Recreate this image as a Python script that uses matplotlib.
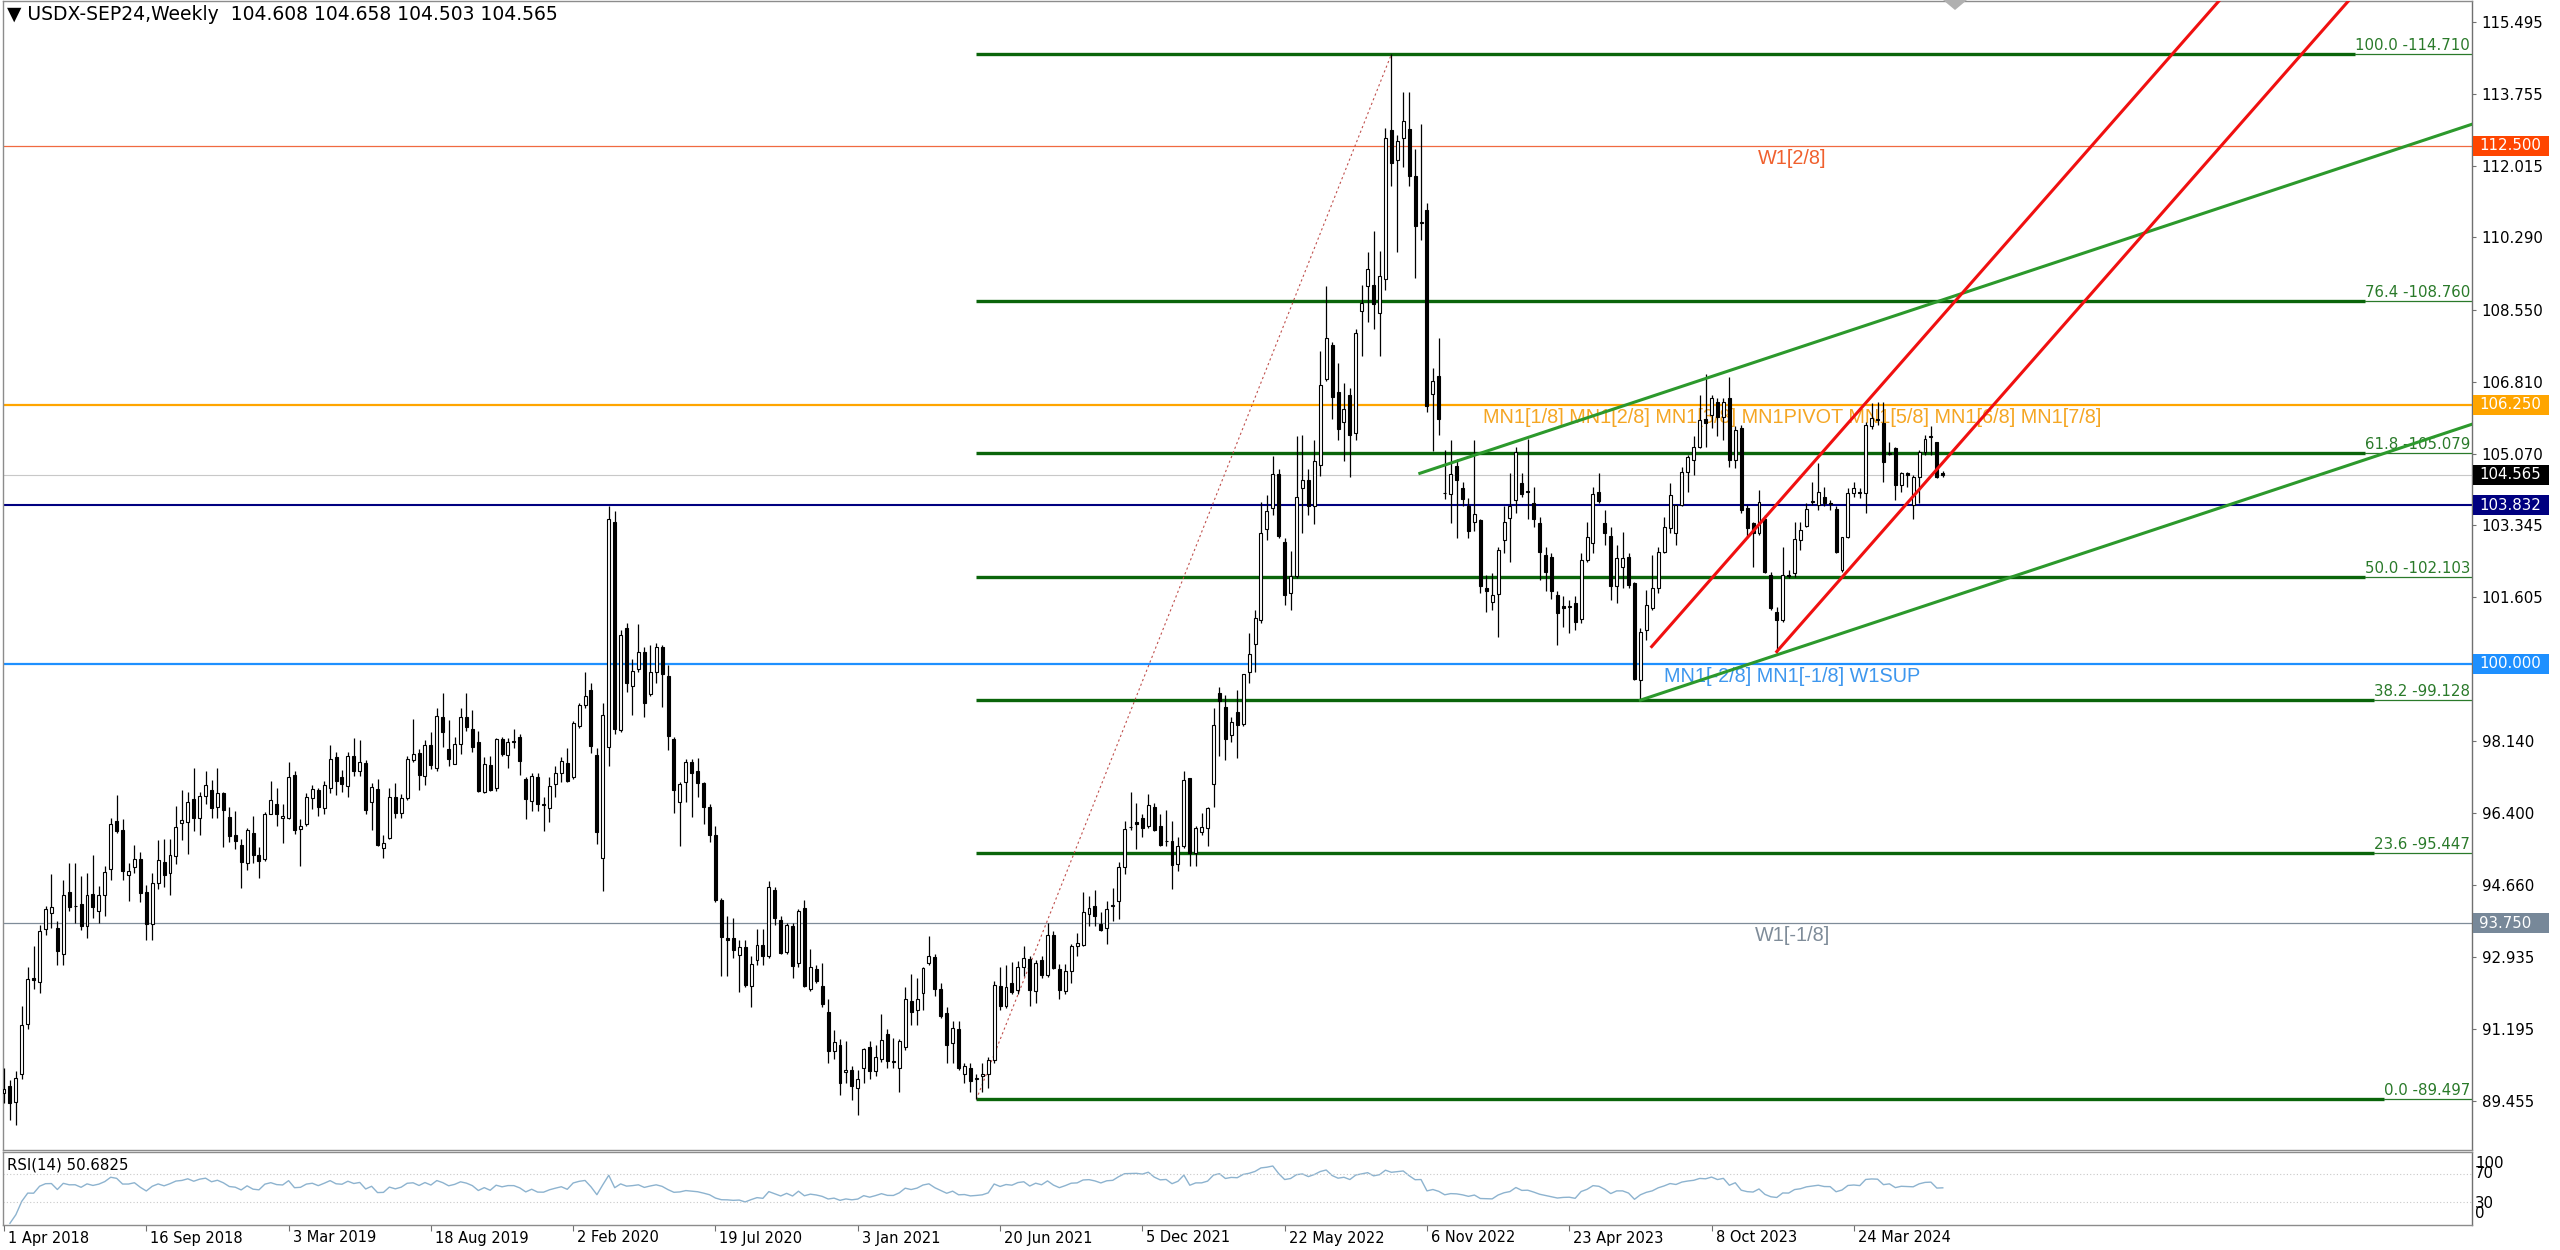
import numpy as np
import pandas as pd
import matplotlib
matplotlib.use("Agg")
import matplotlib.pyplot as plt
from matplotlib.patches import Rectangle, Polygon
from matplotlib.transforms import blended_transform_factory

# weekly candles USDX-SEP24, bar 0 = week of 1 Apr 2018
opens = [89.66, 89.83, 89.44, 90.10, 91.31, 92.42, 92.33, 93.60, 94.00, 93.63,
         93.00, 94.50, 94.17, 94.22, 93.67, 94.44, 94.04, 94.42, 95.06, 96.21,
         96.00, 94.92, 95.10, 95.29, 94.50, 93.73, 94.71, 95.23, 94.96, 95.36,
         96.17, 96.20, 96.75, 96.28, 96.82, 96.96, 96.54, 96.88, 96.32, 95.88,
         95.63, 95.21, 95.93, 95.38, 95.29, 96.39, 96.63, 96.29, 96.29, 97.32,
         96.02, 96.13, 96.77, 96.96, 96.52, 97.02, 97.75, 97.27, 97.06, 97.77,
         97.42, 97.61, 96.67, 96.98, 95.56, 95.81, 96.79, 96.40, 96.77, 97.69,
         97.86, 97.29, 98.04, 97.48, 98.73, 97.96, 97.58, 98.08, 98.73, 98.43,
         98.13, 96.92, 97.57, 97.00, 98.18, 97.81, 98.14, 98.24, 97.22, 96.70,
         97.27, 96.60, 96.52, 97.10, 97.38, 97.60, 97.27, 98.51, 99.00, 99.37,
         97.81, 95.33, 98.00, 103.42, 98.40, 100.86, 99.48, 99.89, 100.29, 99.27,
         99.81, 100.40, 99.70, 98.19, 96.68, 97.16, 97.63, 97.41, 97.13, 96.55,
         95.87, 94.30, 93.38, 93.39, 92.99, 93.17, 92.23, 92.85, 93.23, 92.96,
         94.54, 93.82, 93.06, 93.68, 92.79, 94.11, 92.17, 92.63, 92.23, 91.61,
         90.66, 90.80, 90.15, 90.20, 89.77, 90.26, 90.77, 90.19, 90.47, 91.07,
         90.42, 90.26, 90.75, 91.88, 91.66, 92.06, 92.79, 92.92, 92.17, 91.59,
         90.85, 91.20, 90.10, 90.26, 90.00, 90.07, 90.12, 90.44, 92.23, 91.74,
         92.30, 92.13, 92.69, 92.88, 92.10, 92.86, 92.50, 93.46, 92.64, 92.10,
         92.60, 93.19, 93.22, 93.96, 94.15, 93.72, 93.63, 94.17, 94.28, 95.10,
         96.06, 96.19, 96.29, 96.09, 96.56, 96.09, 95.72, 95.73, 95.18, 95.62,
         97.24, 95.43, 95.94, 96.05, 97.10, 99.30, 98.96, 98.29, 98.85, 98.56,
         99.80, 100.48, 101.06, 103.25, 103.77, 104.59, 102.95, 101.72, 102.12, 104.24,
         104.44, 103.81, 104.80, 106.87, 107.69, 106.57, 105.84, 106.48, 105.58, 108.51,
         109.11, 109.15, 108.46, 109.28, 112.88, 112.17, 112.68, 112.90, 111.78, 110.64,
         110.96, 106.52, 106.94, 104.13, 104.11, 104.78, 104.24, 103.80, 103.43, 103.47,
         101.83, 101.50, 101.69, 102.99, 103.52, 103.96, 104.37, 104.18, 103.89, 103.41,
         102.63, 102.57, 101.67, 101.40, 101.38, 101.46, 101.08, 102.51, 102.91, 104.16,
         103.41, 103.09, 101.87, 102.35, 102.59, 101.95, 99.61, 100.82, 101.34, 101.83,
         102.71, 103.27, 103.15, 103.84, 104.64, 104.92, 105.24, 105.90, 106.01, 106.33,
         105.97, 106.41, 104.92, 105.69, 103.76, 103.41, 103.15, 103.51, 102.15, 101.26,
         101.06, 102.14, 102.19, 102.99, 103.33, 103.92, 103.84, 104.04, 103.88, 103.73,
         102.27, 103.07, 104.12, 104.16, 104.12, 105.74, 105.90, 105.81, 105.06, 105.20,
         104.32, 104.62, 103.84, 104.52, 105.12, 105.48, 105.36, 104.608]
highs = [90.25, 89.96, 90.17, 91.75, 92.70, 93.20, 93.71, 94.17, 94.93, 93.79,
         94.78, 95.19, 95.20, 94.88, 94.96, 95.39, 94.64, 95.13, 96.28, 96.83,
         96.25, 95.21, 95.63, 95.46, 94.67, 94.96, 95.75, 95.79, 95.79, 96.58,
         96.96, 96.92, 97.50, 96.92, 97.42, 97.21, 97.48, 96.92, 96.54, 96.46,
         95.79, 96.04, 96.33, 95.58, 96.44, 97.18, 97.00, 96.63, 97.64, 97.42,
         96.25, 96.88, 97.08, 97.00, 97.17, 98.04, 97.88, 97.44, 97.88, 98.21,
         98.17, 97.69, 97.13, 97.23, 95.88, 97.00, 97.13, 96.86, 97.78, 98.67,
         97.96, 98.17, 98.35, 98.94, 99.31, 98.64, 98.25, 98.94, 99.29, 98.89,
         98.38, 97.75, 97.77, 98.21, 98.25, 98.21, 98.44, 98.30, 97.27, 97.38,
         97.38, 96.79, 97.27, 97.54, 97.76, 97.97, 98.62, 99.05, 99.80, 99.53,
         97.97, 99.05, 103.80, 103.69, 100.83, 100.99, 100.13, 100.97, 100.40, 100.45,
         100.51, 100.47, 99.97, 98.24, 97.16, 97.70, 97.70, 97.73, 97.16, 96.62,
         96.09, 94.36, 93.92, 93.87, 93.33, 93.33, 92.96, 93.60, 93.60, 94.77,
         94.63, 93.93, 93.76, 93.76, 94.09, 94.30, 93.12, 92.74, 92.79, 91.93,
         91.18, 90.96, 90.90, 90.31, 90.20, 90.74, 90.90, 90.80, 91.56, 91.20,
         90.98, 90.96, 92.20, 92.52, 92.42, 92.68, 93.44, 93.01, 92.31, 91.72,
         91.39, 91.39, 90.37, 90.37, 90.10, 90.37, 90.53, 92.36, 92.68, 92.73,
         92.82, 92.84, 93.19, 92.96, 92.86, 92.95, 93.74, 93.55, 92.77, 92.77,
         93.25, 93.51, 94.50, 94.41, 94.54, 94.02, 94.28, 94.60, 95.23, 96.22,
         96.91, 96.65, 96.39, 96.87, 96.65, 96.39, 96.48, 96.22, 95.83, 97.43,
         97.24, 96.09, 96.41, 96.56, 98.93, 99.45, 99.25, 98.72, 99.37, 99.77,
         100.74, 101.30, 103.90, 104.07, 105.02, 104.71, 103.04, 102.73, 105.49, 105.53,
         104.71, 105.40, 107.56, 109.11, 107.77, 107.26, 106.78, 106.65, 108.08, 109.15,
         109.93, 110.45, 109.97, 112.94, 114.71, 112.77, 113.80, 113.80, 112.43, 113.03,
         111.13, 107.13, 107.86, 105.16, 105.40, 104.95, 104.40, 104.00, 105.40, 103.50,
         102.15, 102.19, 102.83, 103.80, 104.60, 105.24, 104.60, 105.44, 104.28, 103.55,
         102.83, 102.67, 101.75, 101.63, 101.54, 101.63, 102.67, 103.43, 104.28, 104.60,
         103.72, 103.31, 102.87, 103.19, 102.67, 101.99, 100.86, 101.79, 102.63, 102.83,
         103.55, 104.36, 103.84, 104.76, 105.04, 105.49, 106.49, 107.00, 106.49, 106.41,
         106.41, 106.93, 105.73, 105.77, 103.84, 103.43, 104.20, 103.59, 102.23, 101.38,
         102.83, 102.27, 103.43, 103.43, 103.88, 104.40, 104.84, 104.28, 103.96, 103.80,
         103.07, 104.24, 104.40, 104.24, 105.85, 106.29, 106.33, 106.33, 105.36, 105.24,
         104.64, 104.64, 104.56, 105.16, 105.52, 105.74, 105.36, 104.658]
lows = [89.42, 89.00, 88.89, 90.00, 91.20, 92.17, 92.06, 93.47, 93.64, 92.73,
        92.75, 94.04, 93.75, 93.58, 93.39, 93.87, 93.75, 93.92, 94.79, 95.92,
        94.79, 94.29, 94.96, 94.25, 93.33, 93.33, 94.58, 94.63, 94.42, 95.17,
        95.75, 95.42, 95.96, 95.87, 96.63, 96.29, 96.29, 95.58, 95.71, 95.54,
        94.60, 95.02, 95.21, 94.83, 95.25, 96.37, 96.08, 95.67, 96.27, 95.89,
        95.13, 96.08, 96.50, 96.33, 96.38, 96.88, 96.83, 96.92, 96.79, 97.29,
        97.29, 96.38, 96.00, 95.60, 95.33, 95.79, 96.29, 96.29, 96.71, 97.63,
        96.96, 97.08, 97.46, 97.42, 98.00, 97.54, 97.58, 97.83, 98.38, 97.88,
        96.92, 96.88, 96.94, 96.94, 97.79, 97.50, 97.97, 97.33, 96.27, 96.46,
        96.46, 95.98, 96.19, 96.78, 97.16, 97.16, 97.22, 98.46, 98.95, 97.86,
        95.65, 94.52, 97.54, 98.30, 98.35, 99.32, 98.78, 99.81, 98.73, 99.22,
        99.54, 98.97, 97.92, 96.41, 95.60, 96.68, 96.30, 96.78, 96.14, 95.71,
        94.25, 92.47, 92.47, 92.90, 92.09, 92.20, 91.72, 92.74, 92.74, 92.90,
        93.71, 93.01, 93.01, 92.42, 92.68, 92.20, 92.12, 92.31, 91.72, 90.37,
        90.47, 89.61, 89.88, 89.47, 89.13, 89.88, 89.99, 90.05, 90.40, 90.26,
        90.26, 89.67, 90.69, 91.28, 91.28, 91.66, 92.74, 91.98, 91.45, 90.37,
        90.37, 90.20, 89.88, 89.67, 89.497, 89.67, 89.77, 90.37, 91.66, 91.70,
        92.04, 92.04, 92.47, 91.76, 91.82, 92.43, 92.45, 92.64, 91.91, 92.04,
        92.30, 92.95, 93.20, 93.68, 93.68, 93.55, 93.25, 93.81, 93.85, 94.93,
        96.00, 95.53, 95.83, 96.05, 95.96, 95.62, 95.62, 94.58, 95.01, 95.57,
        95.12, 95.12, 95.87, 95.62, 96.56, 97.77, 97.68, 98.12, 97.73, 98.50,
        99.54, 99.80, 101.00, 103.00, 103.59, 103.04, 101.43, 101.30, 102.08, 103.17,
        103.59, 103.38, 104.54, 106.82, 105.92, 105.40, 104.89, 104.50, 105.40, 107.43,
        108.25, 108.08, 107.43, 109.02, 111.52, 109.93, 111.99, 111.52, 109.32, 110.23,
        106.09, 105.14, 105.53, 103.98, 103.40, 103.05, 103.80, 103.05, 103.20, 101.71,
        101.26, 101.30, 100.66, 102.67, 102.47, 103.64, 104.04, 103.51, 103.31, 102.03,
        101.75, 101.58, 100.46, 100.90, 100.74, 100.82, 100.98, 102.47, 102.67, 103.88,
        102.87, 101.54, 101.46, 101.83, 101.83, 99.61, 99.128, 100.58, 101.30, 101.71,
        102.67, 103.15, 102.87, 103.80, 104.16, 104.56, 105.20, 105.24, 105.69, 105.49,
        105.40, 104.76, 104.72, 103.64, 103.03, 102.35, 103.11, 102.19, 101.30, 100.30,
        101.02, 102.07, 102.11, 102.75, 103.31, 103.84, 103.72, 103.80, 103.72, 102.67,
        102.23, 103.03, 104.04, 104.00, 103.64, 105.66, 105.77, 104.40, 105.04, 103.96,
        104.16, 104.28, 103.51, 103.88, 105.04, 105.04, 104.48, 104.503]
closes = [89.75, 89.42, 90.02, 91.29, 92.40, 92.38, 93.57, 94.10, 94.13, 93.08,
          94.42, 94.14, 94.15, 93.69, 94.42, 94.14, 94.42, 94.98, 96.13, 95.96,
          95.00, 95.00, 95.29, 94.48, 93.73, 94.71, 95.27, 94.90, 95.40, 96.07,
          96.23, 96.67, 96.28, 96.81, 97.07, 96.52, 96.88, 96.48, 95.85, 95.73,
          95.23, 96.00, 95.38, 95.25, 96.38, 96.72, 96.39, 96.33, 97.28, 96.00,
          96.08, 96.79, 96.98, 96.56, 97.08, 97.71, 97.18, 97.10, 97.78, 97.41,
          97.64, 96.48, 97.03, 95.64, 95.68, 96.79, 96.40, 96.77, 97.71, 97.83,
          97.32, 98.04, 97.56, 98.75, 98.35, 97.71, 98.06, 98.73, 98.48, 98.00,
          96.94, 97.58, 96.96, 98.19, 97.82, 98.13, 98.12, 97.65, 96.75, 97.30,
          96.62, 96.60, 97.06, 97.38, 97.67, 97.18, 98.57, 99.00, 99.23, 98.03,
          95.95, 98.78, 103.50, 98.42, 100.69, 99.54, 99.83, 100.29, 99.07, 99.81,
          100.40, 99.75, 98.27, 96.95, 97.11, 97.63, 97.38, 97.13, 96.55, 95.87,
          94.30, 93.42, 93.35, 93.10, 93.17, 92.25, 92.77, 93.23, 92.96, 94.61,
          93.87, 93.03, 93.71, 92.71, 94.03, 92.23, 92.69, 92.36, 91.80, 90.66,
          90.87, 89.88, 90.20, 89.83, 89.99, 90.72, 90.19, 90.53, 90.94, 90.42,
          90.40, 90.91, 91.93, 91.61, 91.93, 92.66, 92.96, 92.15, 91.50, 90.80,
          91.23, 90.26, 90.31, 89.94, 90.02, 90.12, 90.44, 92.25, 91.74, 92.21,
          92.08, 92.70, 92.90, 92.13, 92.79, 92.50, 93.46, 92.67, 92.13, 92.60,
          93.19, 93.27, 94.02, 94.11, 93.91, 93.59, 94.08, 94.18, 95.10, 96.03,
          96.07, 96.14, 96.05, 96.60, 96.00, 95.63, 95.72, 95.14, 95.62, 97.21,
          95.43, 96.05, 96.06, 96.52, 98.53, 99.11, 98.20, 98.59, 98.53, 99.77,
          100.25, 101.11, 103.17, 103.68, 104.59, 103.08, 101.67, 102.12, 104.04, 104.45,
          103.81, 104.89, 106.74, 107.86, 106.44, 105.68, 106.16, 105.53, 107.99, 108.72,
          109.54, 108.68, 109.37, 112.68, 112.08, 112.62, 113.09, 111.78, 110.56, 110.65,
          106.22, 106.82, 105.92, 104.12, 104.58, 104.45, 103.97, 103.22, 103.63, 101.87,
          101.75, 101.67, 102.75, 103.43, 103.80, 105.12, 104.10, 104.16, 103.51, 102.71,
          102.23, 101.75, 101.22, 101.36, 101.40, 101.02, 102.51, 103.07, 104.10, 103.94,
          103.15, 101.87, 102.55, 102.55, 101.91, 99.65, 100.76, 101.42, 101.83, 102.71,
          103.30, 104.08, 103.84, 104.64, 105.00, 105.24, 105.89, 105.82, 106.41, 105.95,
          106.33, 104.92, 105.65, 103.72, 103.27, 103.15, 103.92, 102.23, 101.34, 101.06,
          102.15, 102.12, 103.01, 103.23, 103.73, 103.94, 104.16, 103.88, 103.86, 102.71,
          103.07, 104.12, 104.24, 104.12, 105.77, 105.93, 105.89, 104.88, 105.08, 104.32,
          104.62, 104.56, 104.52, 105.12, 105.44, 105.50, 104.52, 104.565]

date_ticks = [0, 24, 48, 72, 96, 120, 144, 168, 192, 216, 240, 264, 288, 312]
date_labels = ["1 Apr 2018", "16 Sep 2018", "3 Mar 2019", "18 Aug 2019", "2 Feb 2020",
               "19 Jul 2020", "3 Jan 2021", "20 Jun 2021", "5 Dec 2021", "22 May 2022",
               "6 Nov 2022", "23 Apr 2023", "8 Oct 2023", "24 Mar 2024"]

price_ticks = [115.495, 113.755, 112.015, 110.290, 108.550, 106.810, 105.070, 103.345,
               101.605, 99.870, 98.140, 96.400, 94.660, 92.935, 91.195, 89.455]
hidden_ticks = [99.870]   # sits under the 100.000 box

fib_levels = [0.0, 23.6, 38.2, 50.0, 61.8, 76.4, 100.0]
fib_prices = [89.497, 95.447, 99.128, 102.103, 105.079, 108.760, 114.710]
fib_from, fib_to = 164, 234

# horizontal murrey levels: price, line colour, box colour, line width
levels = [(112.500, "#F06A40", "#FF4500", 0.9),
          (106.250, "#FFA500", "#FFA500", 1.6),
          (103.832, "#000080", "#000080", 1.5),
          (100.000, "#1E90FF", "#1E90FF", 1.6),
          (93.750, "#7F8C99", "#778899", 0.9)]
last_price = 104.565

level_texts = [(112.500, "W1[2/8]", "#F0602E"),
               (106.250, "MN1[1/8] MN1[2/8] MN1[3/8] MN1PIVOT MN1[5/8] MN1[6/8] MN1[7/8]", "#F5A623"),
               (100.000, "MN1[-2/8] MN1[-1/8] W1SUP", "#3D97EE"),
               (93.750, "W1[-1/8]", "#7F8C99")]

# trend channels: start bar, start price, slope per bar
green_lines = [(238.8, 104.60, 0.04746), (276.0, 99.128, 0.04746)]
red_lines = [(277.9, 100.42, 0.1628), (299.0, 100.30, 0.1628)]

o = np.array(opens); h = np.array(highs); l = np.array(lows); c = np.array(closes)
idx = np.arange(len(c))

W, H = 2560, 1250
PXB = 5.929          # pixels per bar
X0 = 4.0             # pixel of bar 0
PPU = 41.45          # pixels per price unit
Y100 = 664.0         # pixel of 100.0

def fx(px):
    return px / W

def fy(py):
    return 1 - py / H

fig = plt.figure(figsize=(25.6, 12.5), dpi=100)
fig.patch.set_facecolor("white")
ax = fig.add_axes([fx(3), fy(1150), fx(2472) - fx(3), fy(1) - fy(1150)])
rx = fig.add_axes([fx(3), fy(1225), fx(2472) - fx(3), fy(1152) - fy(1225)])

xmin = (3 - X0) / PXB
xmax = (2472 - X0) / PXB
ax.set_xlim(xmin, xmax)
ax.set_ylim(100 - (1150 - Y100) / PPU, 100 + (Y100 - 1) / PPU)
rx.set_xlim(xmin, xmax)
rx.set_ylim(-(1225 - 1223.3) / 0.7, 100 + (1153.3 - 1152) / 0.7)

FONT = "DejaVu Sans"
ytr = ax.get_yaxis_transform()

# horizontal levels
for p, col, bcol, lw in levels:
    ax.axhline(p, color=col, lw=lw, zorder=1)
ax.axhline(last_price, color="#C8C8C8", lw=0.8, zorder=1)

# level names
for p, txt, col in level_texts:
    ax.text(301.6, p - 3 / PPU, txt, ha="center", va="top", color=col,
            fontsize=14.3, family="Liberation Sans", zorder=2)

# fibonacci
fib_texts = []
for lv, pr in zip(fib_levels, fib_prices):
    t = ax.text(1 - 2 / 2469, pr + 1 / PPU, f"{lv:.1f} -{pr:.3f}", transform=ytr,
                ha="right", va="bottom", color="#2A7A2A", fontsize=10.8, family=FONT, zorder=4)
    fib_texts.append(t)
fig.canvas.draw()
inv = ax.transData.inverted()
for t, pr in zip(fib_texts, fib_prices):
    bb = t.get_window_extent()
    xl = inv.transform((bb.x0, bb.y0))[0]
    ax.plot([fib_from, xl], [pr, pr], color="#0A650A", lw=2.4, solid_capstyle="butt", zorder=2)
    ax.plot([xl, xmax], [pr, pr], color="#2A7A2A", lw=0.9, zorder=2)
ax.plot([fib_from, fib_to], [fib_prices[0], fib_prices[-1]], color="#C0504D",
        lw=0.8, ls=(0, (2, 2.5)), zorder=2)

# channels
for x0, p0, s in green_lines:
    ax.plot([x0, xmax], [p0, p0 + s * (xmax - x0)], color="#2C992C", lw=2.2, zorder=4)
for x0, p0, s in red_lines:
    ax.plot([x0, xmax], [p0, p0 + s * (xmax - x0)], color="#F01010", lw=2.2, zorder=4)

# candles
up = c >= o
ax.vlines(idx, l, h, color="black", lw=0.9, zorder=3)
ax.bar(idx, np.maximum(np.abs(c - o), 0.015), bottom=np.minimum(o, c), width=0.5,
       color=np.where(up, "white", "black"), edgecolor="black", linewidth=0.8, zorder=3)

# right price axis
ax.yaxis.tick_right()
ax.set_yticks(price_ticks)
ax.set_yticklabels(["" if p in hidden_ticks else f"{p:.3f}" for p in price_ticks])
ax.tick_params(axis="y", direction="out", length=3, width=0.8, color="#707070",
               pad=4, labelsize=10.8, labelcolor="black")
ax.set_xticks([])
for tl in ax.get_yticklabels():
    tl.set_family(FONT)

# price boxes
boxes = [(p, bcol) for p, col, bcol, lw in levels] + [(last_price, "black")]
for p, bcol in boxes:
    ax.add_patch(Rectangle((1.0004, p - 10 / PPU), 76 / 2469, 20 / PPU, transform=ytr,
                           facecolor=bcol, edgecolor="none", clip_on=False, zorder=6))
    ax.text(1 + 7 / 2469, p, f"{p:.3f}", transform=ytr, ha="left", va="center",
            color="white", fontsize=10.8, family=FONT, clip_on=False, zorder=7)

for sp in ax.spines.values():
    sp.set_color("#8C8C8C")
    sp.set_linewidth(1.0)
ax.spines["right"].set_color("#707070")

ax.text(4 / 2469, 1 - 14 / 1149, "\u25BC USDX-SEP24,Weekly  104.608 104.658 104.503 104.565",
        transform=ax.transAxes, ha="left", va="center", fontsize=13.5, family=FONT)

# small marker at top
mk = Polygon([[1943, 0], [1967, 0], [1955, 10]], closed=True, facecolor="#B0B0B0",
             edgecolor="none")
mk.set_transform(matplotlib.transforms.Affine2D().scale(1, -1).translate(0, H))
fig.patches.append(mk)

# RSI panel
s = pd.Series(c)
d = s.diff()
gain = d.clip(lower=0).ewm(alpha=1 / 14, adjust=False).mean()
loss = (-d.clip(upper=0)).ewm(alpha=1 / 14, adjust=False).mean()
rsi = 100 - 100 / (1 + gain / loss)
rx.plot(idx[1:], rsi.values[1:], color="#8DB3CF", lw=1.0)
for lvl in (70, 30):
    rx.axhline(lvl, color="#C8C8C8", lw=0.8, ls=(0, (1, 2)))
rx.text(4 / 2469, 1 - 13 / 73, "RSI(14) 50.6825", transform=rx.transAxes, ha="left",
        va="center", fontsize=10.8, family=FONT)
for val, ypx in ((100, 1163), (70, 1174), (30, 1203), (0, 1213)):
    fig.text(fx(2475), fy(ypx), str(val), ha="left", va="center", fontsize=10.8, family=FONT)
rx.set_yticks([])
rx.set_xticks(date_ticks)
rx.set_xticklabels([])
rx.tick_params(axis="x", direction="out", length=4, width=0.8, color="#707070")
btr = blended_transform_factory(rx.transData, rx.transAxes)
for b, lab in zip(date_ticks, date_labels):
    rx.text(b + 4 / PXB, -13 / 73, lab, transform=btr, ha="left", va="center",
            fontsize=10.5, family=FONT, clip_on=False)
for sp in rx.spines.values():
    sp.set_color("#8C8C8C")
    sp.set_linewidth(1.0)
rx.spines["right"].set_color("#707070")

fig.savefig("out.png", dpi=100, facecolor="white")
